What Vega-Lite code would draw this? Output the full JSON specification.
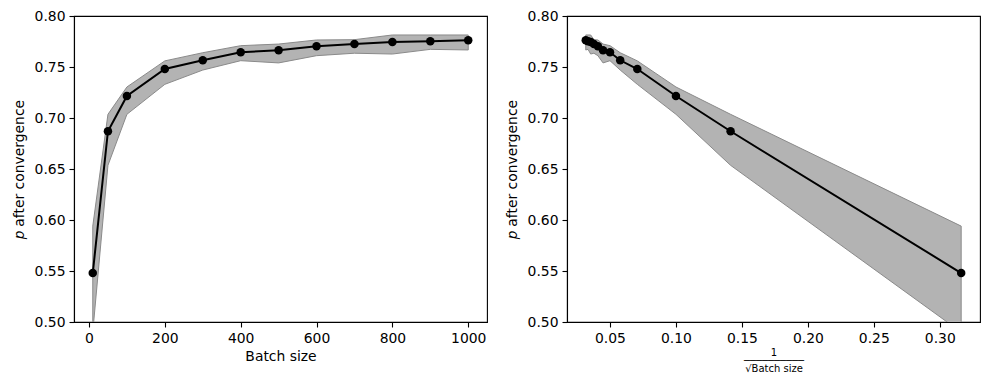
{
  "$schema": "https://vega.github.io/schema/vega-lite/v6.json",
  "padding": {"left": 11, "top": 8, "right": 5, "bottom": 5},
  "background": "white",
  "bounds": "flush",
  "spacing": 80,
  "datasets": {
    "runs": [
      {"batch": 10, "inv_sqrt": 0.316228, "p": 0.548, "lo": 0.49, "hi": 0.594},
      {"batch": 50, "inv_sqrt": 0.141421, "p": 0.687, "lo": 0.6536, "hi": 0.7036},
      {"batch": 100, "inv_sqrt": 0.1, "p": 0.7216, "lo": 0.7036, "hi": 0.7304},
      {"batch": 200, "inv_sqrt": 0.070711, "p": 0.748, "lo": 0.733, "hi": 0.756},
      {"batch": 300, "inv_sqrt": 0.057735, "p": 0.7566, "lo": 0.747, "hi": 0.764},
      {"batch": 400, "inv_sqrt": 0.05, "p": 0.7644, "lo": 0.7562, "hi": 0.7709},
      {"batch": 500, "inv_sqrt": 0.044721, "p": 0.7664, "lo": 0.754, "hi": 0.7725},
      {"batch": 600, "inv_sqrt": 0.040825, "p": 0.7703, "lo": 0.7611, "hi": 0.7765},
      {"batch": 700, "inv_sqrt": 0.037796, "p": 0.7726, "lo": 0.7635, "hi": 0.7768},
      {"batch": 800, "inv_sqrt": 0.035355, "p": 0.7745, "lo": 0.7627, "hi": 0.7814},
      {"batch": 900, "inv_sqrt": 0.033333, "p": 0.7752, "lo": 0.7673, "hi": 0.7814},
      {"batch": 1000, "inv_sqrt": 0.031623, "p": 0.7762, "lo": 0.7667, "hi": 0.7814}
    ]
  },
  "config": {
    "font": "DejaVu Sans",
    "view": {"stroke": "black", "strokeWidth": 1.1},
    "axis": {
      "grid": false,
      "domainColor": "black",
      "domainWidth": 1.1,
      "tickColor": "black",
      "tickWidth": 1.1,
      "tickSize": 5,
      "labelPadding": 4,
      "labelFont": "DejaVu Sans",
      "labelFontSize": 13.9,
      "labelColor": "black",
      "titleFont": "DejaVu Sans",
      "titleFontSize": 13.9,
      "titleFontWeight": "normal",
      "titleColor": "black",
      "labelFlush": false,
      "labelOverlap": false
    }
  },
  "hconcat": [
    {
      "width": 413,
      "height": 306,
      "data": {"name": "runs"},
      "layer": [
        {
          "mark": {"type": "area", "clip": true, "fill": "#b3b3b3", "stroke": "#8a8a8a", "strokeWidth": 1},
          "encoding": {
            "x": {"field": "batch", "type": "quantitative"},
            "y": {"field": "lo", "type": "quantitative"},
            "y2": {"field": "hi"}
          }
        },
        {
          "mark": {"type": "line", "color": "black", "strokeWidth": 2, "clip": true},
          "encoding": {
            "x": {"field": "batch", "type": "quantitative"},
            "y": {"field": "p", "type": "quantitative"}
          }
        },
        {
          "mark": {"type": "point", "filled": true, "color": "black", "opacity": 1, "size": 72, "shape": "circle"},
          "encoding": {
            "x": {"field": "batch", "type": "quantitative",
              "scale": {"domain": [-39.5, 1049.5], "nice": false, "zero": false},
              "axis": {"title": "Batch size", "values": [0, 200, 400, 600, 800, 1000], "format": "d", "titlePadding": 5}},
            "y": {"field": "p", "type": "quantitative",
              "scale": {"domain": [0.5, 0.8], "nice": false, "zero": false},
              "axis": {"title": "𝑝 after convergence", "values": [0.5, 0.55, 0.6, 0.65, 0.7, 0.75, 0.8], "format": ".2f", "titlePadding": 8}}
          }
        }
      ]
    },
    {
      "width": 413,
      "height": 306,
      "data": {"name": "runs"},
      "layer": [
        {
          "mark": {"type": "area", "clip": true, "fill": "#b3b3b3", "stroke": "#8a8a8a", "strokeWidth": 1},
          "encoding": {
            "x": {"field": "inv_sqrt", "type": "quantitative"},
            "y": {"field": "lo", "type": "quantitative"},
            "y2": {"field": "hi"}
          }
        },
        {
          "mark": {"type": "line", "color": "black", "strokeWidth": 2, "clip": true},
          "encoding": {
            "x": {"field": "inv_sqrt", "type": "quantitative"},
            "y": {"field": "p", "type": "quantitative"}
          }
        },
        {
          "mark": {"type": "point", "filled": true, "color": "black", "opacity": 1, "size": 72, "shape": "circle"},
          "encoding": {
            "x": {"field": "inv_sqrt", "type": "quantitative",
              "scale": {"domain": [0.0174, 0.3305], "nice": false, "zero": false},
              "axis": {"title": ["1", "──────────", "√Batch size"], "titleFontSize": 10, "titleLineHeight": 8, "values": [0.05, 0.1, 0.15, 0.2, 0.25, 0.3], "format": ".2f", "titlePadding": 3}},
            "y": {"field": "p", "type": "quantitative",
              "scale": {"domain": [0.5, 0.8], "nice": false, "zero": false},
              "axis": {"title": "𝑝 after convergence", "values": [0.5, 0.55, 0.6, 0.65, 0.7, 0.75, 0.8], "format": ".2f", "titlePadding": 8}}
          }
        }
      ]
    }
  ]
}
